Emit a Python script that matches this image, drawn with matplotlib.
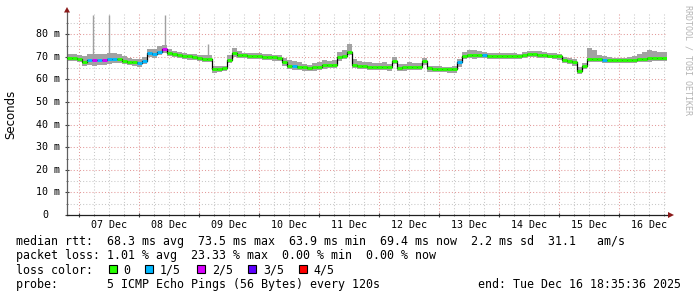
"""
Smokeping-style latency graph (10 days, median rtt + smoke + loss colour).
"""

import numpy as np
import matplotlib

matplotlib.use("Agg")
import matplotlib.pyplot as plt
from matplotlib.patches import Polygon, Rectangle
from matplotlib.transforms import ScaledTranslation

# ─────────────────────────────────────────────────────────────────────────────
# Data  (2 h buckets, hours relative to 07 Dec 00:00)
# ─────────────────────────────────────────────────────────────────────────────
start_hour = -4.9
step_hours = 2.0

median_ms = [
    69.6, 69.5, 69.2, 67.8, 68.6, 68.4, 68.6, 68.4, 68.9, 69.2,
    68.9, 68.3, 67.9, 67.7, 67.3, 68.3, 71.5, 71.4, 72.2, 73.3,
    71.8, 71.2, 70.8, 70.5, 70.2, 70.0, 69.5, 69.2, 69.0, 64.6,
    64.8, 65.0, 68.8, 71.5, 71.0, 70.7, 70.5, 70.4, 70.4, 70.1,
    69.9, 69.7, 69.3, 67.5, 66.0, 65.9, 65.5, 65.3, 65.0, 65.3,
    65.6, 66.2, 66.3, 66.5, 69.8, 70.5, 72.0, 66.5, 66.0, 65.8,
    65.7, 65.6, 65.6, 65.5, 65.3, 68.2, 65.2, 65.3, 65.6, 65.5,
    65.5, 68.0, 64.9, 64.8, 64.7, 64.5, 64.4, 64.6, 67.5, 70.5,
    70.7, 70.6, 70.8, 70.6, 70.4, 70.3, 70.2, 70.3, 70.2, 70.3,
    70.2, 70.8, 71.3, 71.2, 70.8, 70.6, 70.5, 70.4, 70.2, 68.5,
    68.3, 67.5, 63.9, 65.8, 69.2, 69.0, 69.0, 68.8, 68.6, 68.5,
    68.5, 68.4, 68.5, 68.7, 68.9, 69.1, 69.3, 69.5, 69.4, 69.4,
]

# lost pings out of 5 per bucket
loss_count = [
    0, 0, 0, 0, 1, 2, 1, 2, 1, 1,
    0, 0, 0, 0, 1, 1, 1, 1, 1, 2,
    0, 0, 0, 0, 0, 0, 0, 0, 0, 0,
    0, 0, 0, 0, 0, 0, 0, 0, 0, 0,
    0, 0, 0, 0, 0, 1, 0, 0, 0, 0,
    0, 0, 0, 0, 0, 0, 0, 0, 0, 0,
    0, 0, 0, 0, 0, 0, 0, 0, 0, 0,
    0, 0, 0, 0, 0, 0, 0, 0, 1, 0,
    0, 0, 0, 1, 0, 0, 0, 0, 0, 0,
    0, 0, 0, 0, 0, 0, 0, 0, 0, 0,
    0, 0, 0, 0, 0, 0, 0, 1, 0, 0,
    0, 0, 0, 0, 0, 0, 0, 0, 0, 0,
]

smoke_up = [
    1.5, 1.6, 1.8, 2.5, 2.8, 3.0, 2.6, 2.8, 3.0, 2.5,
    2.2, 2.0, 1.6, 1.4, 1.6, 1.8, 2.0, 2.2, 2.4, 1.8,
    1.8, 1.5, 1.3, 1.4, 1.2, 1.3, 1.4, 1.6, 1.8, 1.2,
    1.0, 1.0, 1.8, 2.2, 1.6, 1.2, 1.3, 1.1, 1.2, 1.3,
    1.2, 1.1, 1.3, 1.8, 2.6, 2.4, 2.0, 1.6, 1.5, 1.8,
    2.0, 2.2, 1.8, 2.0, 2.2, 2.4, 3.6, 2.5, 2.2, 2.0,
    1.8, 1.6, 1.8, 2.0, 1.6, 1.8, 1.6, 1.4, 2.0, 1.8,
    1.6, 1.5, 1.2, 1.0, 1.2, 1.1, 1.0, 1.2, 1.5, 1.8,
    2.2, 2.4, 1.8, 1.5, 1.4, 1.2, 1.3, 1.2, 1.4, 1.3,
    1.2, 1.5, 1.4, 1.3, 1.6, 1.4, 1.2, 1.3, 1.2, 1.4,
    1.2, 1.5, 1.4, 1.6, 4.5, 3.8, 2.0, 1.6, 1.2, 1.0,
    1.0, 1.1, 1.2, 1.5, 2.5, 3.0, 3.6, 3.2, 2.8, 2.6,
]

smoke_dn = [
    1.4, 1.4, 1.6, 1.8, 2.2, 2.4, 2.2, 2.0, 2.0, 1.8,
    1.6, 1.4, 1.4, 1.6, 1.8, 1.6, 1.6, 1.8, 1.6, 1.4,
    1.4, 1.4, 1.3, 1.4, 1.4, 1.3, 1.4, 1.4, 1.4, 1.6,
    1.4, 1.4, 1.6, 1.4, 1.4, 1.2, 1.3, 1.2, 1.3, 1.4,
    1.3, 1.4, 1.3, 1.4, 1.4, 1.6, 1.4, 1.4, 1.3, 1.4,
    1.4, 1.5, 1.4, 1.6, 1.6, 1.4, 1.4, 1.4, 1.4, 1.3,
    1.4, 1.3, 1.4, 1.5, 1.4, 1.6, 1.4, 1.4, 1.4, 1.3,
    1.4, 1.6, 1.5, 1.4, 1.6, 1.4, 1.4, 1.6, 1.8, 1.4,
    1.3, 1.4, 1.3, 1.2, 1.3, 1.2, 1.3, 1.2, 1.3, 1.2,
    1.3, 1.2, 1.3, 1.3, 1.2, 1.3, 1.2, 1.3, 1.4, 1.4,
    1.4, 1.6, 1.6, 1.4, 1.4, 1.3, 1.3, 1.4, 1.3, 1.3,
    1.3, 1.2, 1.3, 1.4, 1.4, 1.6, 1.6, 1.4, 1.4, 1.4,
]

# single-ping outliers
spike_hours = [5.5, 11.9, 34.3, 51.5]
spike_base_ms = [69.5, 69.5, 72.5, 70.0]
spike_top_ms = [88.5, 88.5, 88.5, 75.5]

day_labels = ["07 Dec", "08 Dec", "09 Dec", "10 Dec", "11 Dec",
              "12 Dec", "13 Dec", "14 Dec", "15 Dec", "16 Dec"]

loss_labels = ["0", "1/5", "2/5", "3/5", "4/5"]
loss_colors = ["#26ff00", "#00b8ff", "#d900ff", "#5e00ff", "#ff0000"]

legend_lines = [
    "median rtt:  68.3 ms avg  73.5 ms max  63.9 ms min  69.4 ms now  2.2 ms sd  31.1   am/s",
    "packet loss: 1.01 % avg  23.33 % max  0.00 % min  0.00 % now",
    "loss color:",
    "probe:       5 ICMP Echo Pings (56 Bytes) every 120s",
]
end_text = "end: Tue Dec 16 18:35:36 2025"

# ─────────────────────────────────────────────────────────────────────────────
W, H = 697, 297
MONO = "DejaVu Sans Mono"
GRID_MINOR = "#c8c8c8"
GRID_MAJOR = "#e39a9a"
ARROW = "#8b1a1a"


def fx(x):
    return x / W


def fy(y):
    return 1 - y / H


fig = plt.figure(figsize=(W / 100, H / 100), dpi=100)
ax = fig.add_axes([fx(67), fy(215), 600 / W, (215 - 11.6) / H])

n = len(median_ms)
med = np.asarray(median_ms)
edges = start_hour + step_hours * np.arange(n + 1)
hi = med + np.asarray(smoke_up)
lo = med - np.asarray(smoke_dn)

ax.set_xlim(edges[0], edges[-1])
ax.set_ylim(0, 90)

# ── grid ────────────────────────────────────────────────────────────────────
for h in np.arange(0, edges[-1], 6):
    major = h % 24 == 0
    ax.axvline(h, color=GRID_MAJOR if major else GRID_MINOR, lw=0.75,
               ls=(0, (1, 2)), zorder=0)
for v in range(5, 90, 5):
    major = v % 10 == 0
    ax.axhline(v, color=GRID_MAJOR if major else GRID_MINOR, lw=0.75,
               ls=(0, (1, 2)), zorder=0)

# ── smoke ───────────────────────────────────────────────────────────────────
ax.fill_between(edges, np.append(lo, lo[-1]), np.append(hi, hi[-1]),
                step="post", color="#a2a2a2", lw=0, zorder=2)
ax.vlines(spike_hours, spike_base_ms, spike_top_ms, color="#a0a0a0", lw=1.0, zorder=2)

# ── median, coloured by loss ────────────────────────────────────────────────
ax.step(edges, np.append(med, med[-1]), where="post", color="black", lw=0.9, zorder=3)
seg_colors = [loss_colors[c] for c in loss_count]
ax.hlines(med, edges[:-1], edges[1:], colors=seg_colors, lw=2.1, zorder=4)

# ── axes ────────────────────────────────────────────────────────────────────
for side in ("top", "right"):
    ax.spines[side].set_visible(False)
ax.spines["left"].set_color("#606060")
ax.spines["bottom"].set_color("#202020")
ax.spines["left"].set_linewidth(0.9)
ax.spines["bottom"].set_linewidth(0.9)

ax.set_xticks(np.arange(0, edges[-1], 24))
ax.set_xticks(np.arange(0, edges[-1], 6), minor=True)
ax.set_yticks(np.arange(0, 90, 10))
ax.set_yticks(np.arange(5, 90, 10), minor=True)
ax.tick_params(which="major", length=3, width=0.8, direction="inout",
               labelbottom=False, labelleft=False, color="#404040")
ax.tick_params(which="minor", length=2, width=0.6, direction="inout", color="#606060")

lab_y = ax.get_yaxis_transform() + ScaledTranslation(-7 / 100, 0, fig.dpi_scale_trans)
lab_y0 = ax.get_yaxis_transform() + ScaledTranslation(-19 / 100, 0, fig.dpi_scale_trans)
for v in range(0, 90, 10):
    if v:
        ax.text(0, v, f"{v} m", transform=lab_y, ha="right", va="center",
                family=MONO, fontsize=7.2)
    else:
        ax.text(0, v, "0", transform=lab_y0, ha="right", va="center",
                family=MONO, fontsize=7.2)

lab_x = ax.get_xaxis_transform() + ScaledTranslation(0, -10 / 100, fig.dpi_scale_trans)
for k, lbl in enumerate(day_labels):
    ax.text(12 + 24 * k, 0, lbl, transform=lab_x, ha="center", va="center",
            family=MONO, fontsize=7.2)

# arrows at the axis ends
fig.add_artist(Polygon([(fx(64), fy(12.5)), (fx(70), fy(12.5)), (fx(67), fy(7))],
                       closed=True, transform=fig.transFigure, color=ARROW, lw=0))
fig.add_artist(Polygon([(fx(668), fy(212)), (fx(668), fy(218)), (fx(674), fy(215))],
                       closed=True, transform=fig.transFigure, color=ARROW, lw=0))

fig.text(fx(11), fy(114), "Seconds", rotation=90, ha="center", va="center",
         family="DejaVu Sans", fontsize=8.5)
fig.text(fx(688), fy(5), "RRDTOOL / TOBI OETIKER", rotation=270, ha="center",
         va="top", family=MONO, fontsize=6, color="#b4b4b4")

# ── legend block ────────────────────────────────────────────────────────────
line_y = [241, 255.5, 270, 284.5]
for txt, y in zip(legend_lines, line_y):
    fig.text(fx(16), fy(y), txt, family=MONO, fontsize=8.4, va="center")
fig.text(fx(478), fy(line_y[3]), end_text, family=MONO, fontsize=8.4, va="center")

box_x = [109, 145, 197, 248, 299]
text_x = [123, 160, 212, 263, 313]
for bx, tx, lbl, col in zip(box_x, text_x, loss_labels, loss_colors):
    fig.add_artist(Rectangle((fx(bx), fy(273)), 8 / W, 8 / H, transform=fig.transFigure,
                             facecolor=col, edgecolor="black", lw=0.8))
    fig.text(fx(tx), fy(line_y[2]), lbl, family=MONO, fontsize=8.4, va="center")

fig.savefig("out.png", dpi=100, facecolor="white")
plt.close(fig)
